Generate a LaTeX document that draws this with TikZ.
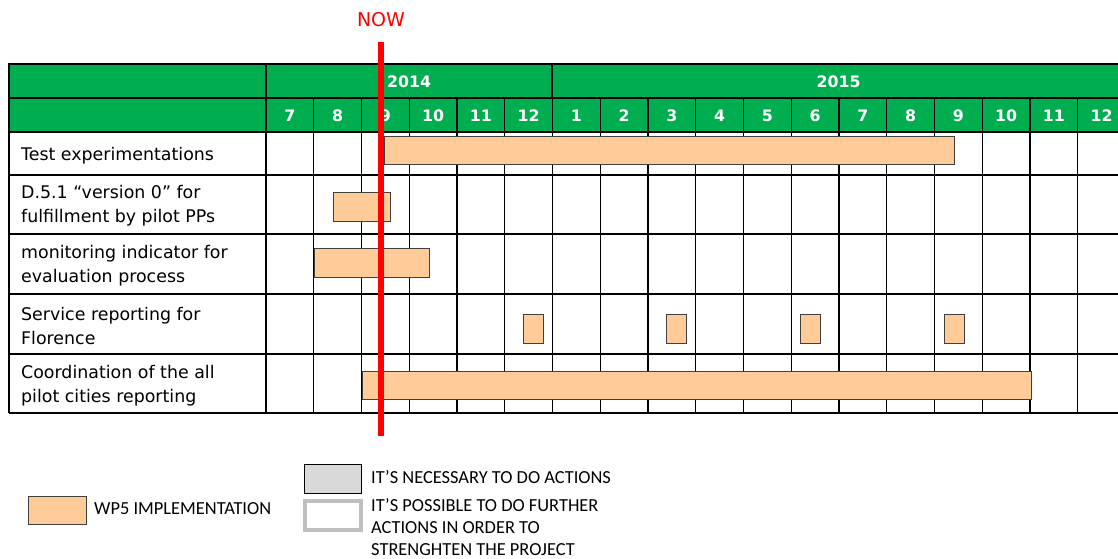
\documentclass[tikz,border=0pt]{standalone}
\usepackage{fontspec}
\setmainfont{DejaVu Sans}
\newfontfamily\legendfont{Carlito}
\usepackage{xcolor}
\usetikzlibrary{positioning}
\definecolor{hdrGreen}{RGB}{0,173,79}
\definecolor{barPeach}{RGB}{255,204,153}
\definecolor{barEdge}{RGB}{64,64,64}
\definecolor{nowRed}{RGB}{255,0,0}
\definecolor{actGray}{RGB}{217,217,217}
\definecolor{frameGray}{RGB}{191,191,191}
\tikzset{
  gridline/.style={black, line width=1.3pt},
  taskbar/.style={fill=barPeach, draw=barEdge, line width=1pt},
  monthlbl/.style={text=white, inner sep=0pt, font=\fontsize{15.8}{18}\selectfont\bfseries},
  tasklbl/.style={anchor=west, align=left, inner sep=0pt, font=\fontsize{17.4}{24}\selectfont},
  legendlbl/.style={anchor=west, align=left, inner sep=0pt, font=\legendfont\fontsize{18.4}{22}\selectfont},
}
\begin{document}
\begin{tikzpicture}[x=1pt,y=-1pt]
\useasboundingbox (0,0) rectangle (1118,559);
\clip (0,0) rectangle (1118,559);

% header band
\fill[hdrGreen] (9,64) rectangle (1126,132);

% grid
\foreach \y in {98,132,175,234,294,354,413}
  \draw[gridline] (9,\y) -- (1126,\y);
\draw[black, line width=2.8pt] (8,64) -- (1126,64);
\draw[gridline] (9,64) -- (9,413);
\draw[gridline] (266,64) -- (266,413);
\draw[gridline] (552,64) -- (552,98);
\foreach \i in {1,...,17}
  \draw[gridline] ({266+47.75*\i},98) -- ({266+47.75*\i},413);

% years and months
\node[monthlbl] (y2014) at (409,81.5) {2014};
\node[monthlbl] (y2015) at (838.5,81.5) {2015};
\foreach \m [count=\i from 0] in {7,8,9,10,11,12,1,2,3,4,5,6,7,8,9,10,11,12}
  \node[monthlbl] (m\i) at ({266+47.75*(\i+0.5)},116) {\m};

% task labels
\node[tasklbl] (t1) at (21,155.5) {Test experimentations};
\node[tasklbl] (t2) at (21,206) {D.5.1 “version 0” for\\fulfillment by pilot PPs};
\node[tasklbl] (t3) at (21,266) {monitoring indicator for\\evaluation process};
\node[tasklbl] (t4) at (21,326) {Service reporting for\\Florence};
\node[tasklbl] (t5) at (21,386) {Coordination of the all\\pilot cities reporting};

% bars
\draw[taskbar] (384,136) rectangle (954,164);
\draw[taskbar] (333,192) rectangle (390,221);
\draw[taskbar] (314,248) rectangle (429,277);
\foreach \x in {523,666,800,944}
  \draw[taskbar] (\x,314) rectangle ++(20,29);
\draw[taskbar] (362,371) rectangle (1031,399);

% now line
\draw[nowRed, line width=6.5pt] (381,42) -- (381,436);
\node[text=nowRed, font=\fontsize{19}{22}\selectfont] (now) at (381,19.5) {NOW};

% legend
\draw[taskbar] (28,496) rectangle (86,524);
\node[legendlbl] (lwp5) at (94,508.5) {WP5 IMPLEMENTATION};
\draw[fill=actGray, draw=black, line width=1pt] (304.5,464.5) rectangle (361.5,493);
\node[legendlbl] (lnec) at (371,477) {IT’S NECESSARY TO DO ACTIONS};
\draw[frameGray, line width=4pt] (305,501) rectangle (360.5,530);
\node[legendlbl] (lpos) at (371,527) {IT’S POSSIBLE TO DO FURTHER\\ACTIONS IN ORDER TO\\STRENGHTEN THE PROJECT};
\end{tikzpicture}
\end{document}
